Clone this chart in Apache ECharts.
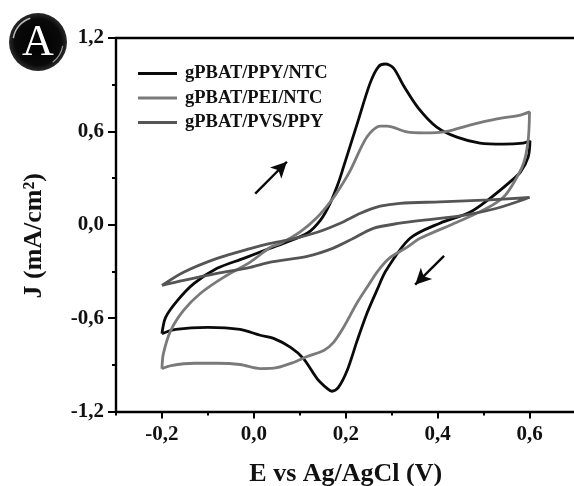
<!DOCTYPE html>
<html><head><meta charset="utf-8">
<style>html,body{margin:0;padding:0;background:#fff}#c{width:574px;height:486px}</style>
<script src="https://cdn.jsdelivr.net/npm/echarts@6/dist/echarts.min.js"></script>
</head><body><div id="c"></div>
<script>
const seriesNames = ['gPBAT/PPY/NTC','gPBAT/PEI/NTC','gPBAT/PVS/PPY'];
const xMajorTicks = [-0.2,0,0.2,0.4,0.6];
const xMinorTicks = [-0.3,-0.1,0.1,0.3,0.5,0.7];
const ppyE = [-0.2,-0.192,-0.166,-0.13,-0.08,-0.022,0.036,0.064,0.116,0.145,0.166,0.184,0.195,0.225,0.253,0.271,0.286,0.304,0.325,0.358,0.398,0.442,0.492,0.543,0.586,0.601,0.597,0.58,0.557,0.514,0.47,0.405,0.34,0.288,0.268,0.246,0.225,0.203,0.184,0.17,0.16,0.138,0.108,0.08,0.043,0.014,-0.03,-0.1,-0.17,-0.2];
const ppyJ = [-0.7,-0.595,-0.486,-0.377,-0.28,-0.216,-0.15,-0.12,-0.055,0.03,0.138,0.27,0.37,0.65,0.91,1.015,1.033,1.007,0.898,0.75,0.628,0.563,0.525,0.518,0.525,0.538,0.435,0.338,0.274,0.17,0.08,0.01,-0.087,-0.293,-0.42,-0.57,-0.743,-0.937,-1.045,-1.07,-1.053,-0.99,-0.86,-0.788,-0.73,-0.71,-0.673,-0.66,-0.673,-0.7];
const peiE = [-0.2,-0.197,-0.181,-0.153,-0.116,-0.066,-0.008,0.036,0.058,0.1,0.138,0.166,0.188,0.21,0.246,0.275,0.29,0.333,0.37,0.42,0.47,0.529,0.58,0.6,0.597,0.587,0.565,0.543,0.507,0.442,0.362,0.333,0.297,0.271,0.246,0.225,0.195,0.173,0.152,0.116,0.086,0.05,0.014,-0.03,-0.08,-0.13,-0.18,-0.2];
const peiJ = [-0.925,-0.83,-0.68,-0.55,-0.44,-0.338,-0.24,-0.145,-0.12,-0.048,0.048,0.145,0.24,0.35,0.564,0.634,0.634,0.596,0.59,0.6,0.64,0.68,0.705,0.725,0.544,0.396,0.267,0.177,0.106,0.016,-0.087,-0.145,-0.21,-0.293,-0.403,-0.5,-0.66,-0.757,-0.808,-0.847,-0.885,-0.918,-0.924,-0.898,-0.89,-0.89,-0.905,-0.925];
const pvsE = [-0.2,-0.153,-0.08,-0.008,0.036,0.08,0.138,0.188,0.232,0.275,0.318,0.405,0.514,0.6,0.529,0.456,0.37,0.318,0.26,0.217,0.173,0.116,0.036,-0.008,-0.08,-0.153,-0.2];
const pvsJ = [-0.39,-0.305,-0.216,-0.153,-0.12,-0.094,-0.048,0.01,0.074,0.119,0.138,0.147,0.16,0.175,0.106,0.06,0.03,0.01,-0.023,-0.087,-0.15,-0.203,-0.24,-0.274,-0.313,-0.358,-0.39];
const arrowUp = [[0.003,0.2],[0.072,0.405]];
const arrowDown = [[0.414,-0.2],[0.351,-0.385]];
const zip = (a,b)=>a.map((v,i)=>[v,b[i]]);
const comma = v=>v.toFixed(1).replace('.',',').replace(/^-?0,0$/,'0,0');
const font = 'Liberation Serif';
const axisCommon = {min:-0.3,max:0.7,position:'bottom',splitLine:{show:false}};
const chart = echarts.init(document.getElementById('c'),null,{renderer:'canvas'});
const lineOf=(name,data,color,extra)=>Object.assign({name,type:'line',data,showSymbol:false,symbol:'none',smooth:0.3,
  lineStyle:{color,width:2.8},itemStyle:{color},animation:false},extra||{});
chart.setOption({
  animation:false,
  backgroundColor:'#fff',
  grid:{left:116,right:-1.5,top:38,bottom:74.5,outerBoundsMode:'none'},
  legend:{left:138,top:64,orient:'vertical',itemWidth:39,itemHeight:10,itemGap:5.5,padding:0,
    icon:'path://M0 3.5H39V6.5H0Z',
    textStyle:{fontFamily:font,fontWeight:'bold',fontSize:18.5,color:'#111',padding:[0,0,0,3]},
    data:seriesNames},
  xAxis:[
    Object.assign({},axisCommon,{type:'value',
      axisLine:{onZero:false,lineStyle:{color:'#000',width:2.4}},
      axisTick:{show:true,length:7,customValues:xMajorTicks,lineStyle:{color:'#000',width:2}},
      axisLabel:{customValues:xMajorTicks,formatter:comma,fontFamily:font,fontWeight:'bold',fontSize:21,color:'#111',margin:13},
      name:'E vs Ag/AgCl (V)',nameLocation:'middle',nameGap:50,
      nameTextStyle:{fontFamily:font,fontWeight:'bold',fontSize:26,color:'#111'}}),
    Object.assign({},axisCommon,{type:'value',
      axisLine:{show:false,onZero:false},
      axisTick:{show:true,length:4,customValues:xMinorTicks,lineStyle:{color:'#000',width:2}},
      axisLabel:{show:false}}),
    Object.assign({},axisCommon,{type:'value',position:'top',
      axisLine:{onZero:false,lineStyle:{color:'#000',width:2.4}},
      axisTick:{show:false},axisLabel:{show:false}})
  ],
  yAxis:{type:'value',min:-1.2,max:1.2,interval:0.6,position:'left',splitLine:{show:false},
    axisLine:{onZero:false,lineStyle:{color:'#000',width:2.4}},
    axisTick:{length:8,lineStyle:{color:'#000',width:2}},
    minorTick:{show:true,splitNumber:2,length:4,lineStyle:{color:'#000',width:2}},
    minorSplitLine:{show:false},
    axisLabel:{formatter:comma,fontFamily:font,fontWeight:'bold',fontSize:21,color:'#111',margin:12},
    name:'J (mA/cm²)',nameLocation:'middle',nameGap:69,nameRotate:90,
    nameTextStyle:{fontFamily:font,fontWeight:'bold',fontSize:26,color:'#111',padding:[0,22,0,0]}},
  series:[
    lineOf(seriesNames[0],zip(ppyE,ppyJ),'#0a0a0a',{z:3,
      markLine:{silent:true,animation:false,symbol:['none','arrow'],symbolSize:[12,16],label:{show:false},
        lineStyle:{color:'#0a0a0a',width:2.4,type:'solid'},
        data:[[{coord:arrowUp[0]},{coord:arrowUp[1]}],[{coord:arrowDown[0]},{coord:arrowDown[1]}]]}}),
    lineOf(seriesNames[1],zip(peiE,peiJ),'#7a7a7a',{z:4}),
    lineOf(seriesNames[2],zip(pvsE,pvsJ),'#555555',{z:5})
  ],
  graphic:[
    {type:'circle',shape:{cx:38,cy:42,r:29},z:10,style:{fill:{type:'radial',x:0.5,y:0.5,r:0.5,
      colorStops:[{offset:0,color:'#000'},{offset:0.8,color:'#0a0a0a'},{offset:1,color:'#2a2a2a'}]}}},
    {type:'arc',shape:{cx:38,cy:42,r:25,startAngle:Math.PI*1.05,endAngle:Math.PI*1.4},z:11,style:{stroke:'#bbb',lineWidth:1.5,fill:null}},
    {type:'arc',shape:{cx:38,cy:42,r:25,startAngle:Math.PI*0.05,endAngle:Math.PI*0.3},z:11,style:{stroke:'#999',lineWidth:1.2,fill:null}},
    {type:'text',z:12,style:{x:38,y:43,text:'A',fill:'#fff',font:'44px "Liberation Serif"',align:'center',verticalAlign:'middle'}}
  ]
});
</script></body></html>
